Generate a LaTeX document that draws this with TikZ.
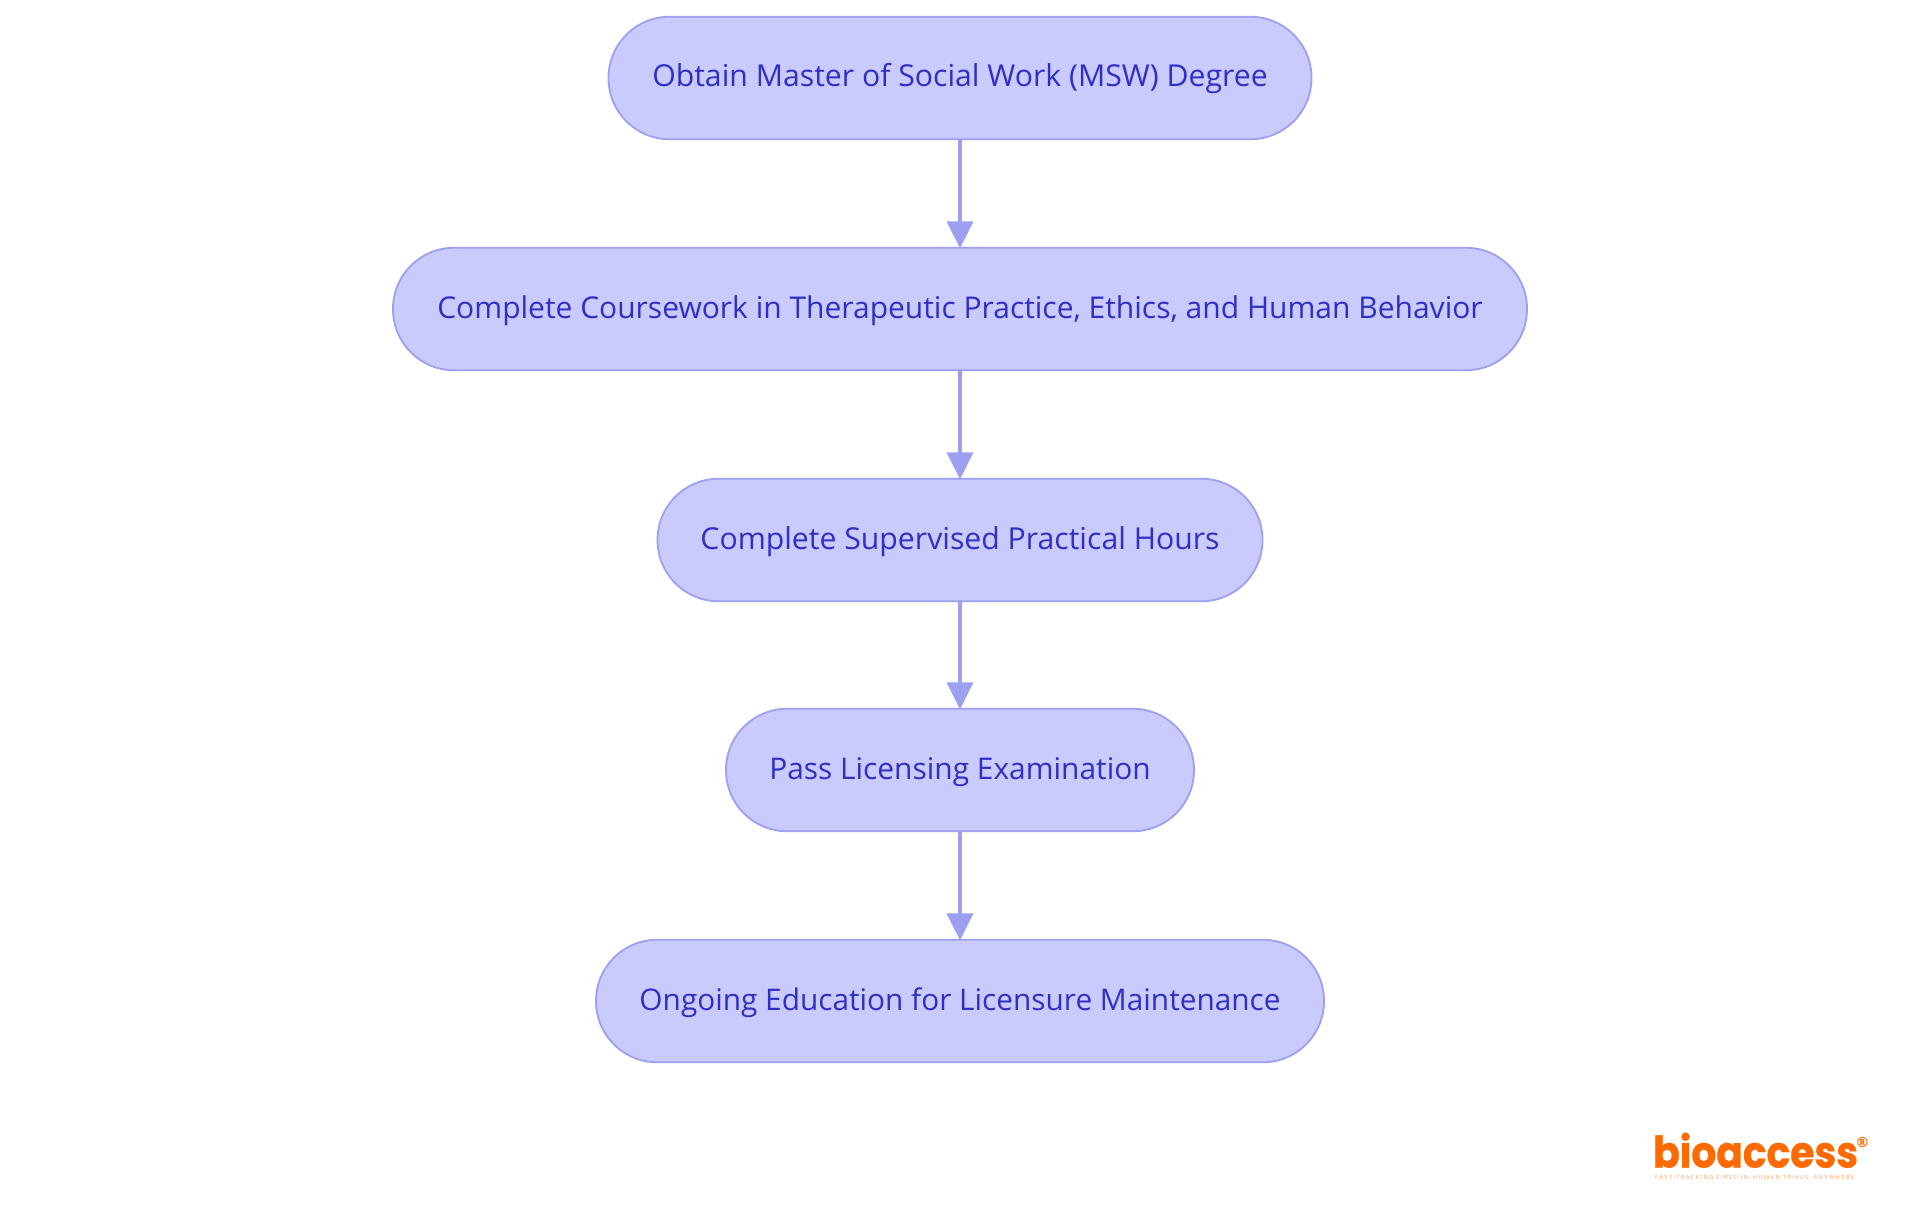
\documentclass[tikz,border=0pt]{standalone}
\usepackage{fontspec}
\setmainfont{Open Sans}
\newfontfamily\logofont[FakeBold=0.8,FakeStretch=0.9]{Poppins Bold}
\newfontfamily\regfont{Open Sans}
\newfontfamily\tagfont[LetterSpace=24]{Open Sans}
\usetikzlibrary{arrows.meta}
\definecolor{nodefill}{HTML}{C9CBFF}
\definecolor{nodeline}{HTML}{9D9FF0}
\definecolor{nodetext}{HTML}{2F2FC4}
\definecolor{logoorange}{HTML}{FF6A00}
\tikzset{
  stepbox/.style={draw=nodeline,fill=nodefill,line width=1.8pt,rounded corners=61pt,
    minimum height=122.5pt,inner sep=0pt,text=nodetext,text depth=7pt,text height=25pt,
    font=\fontsize{#1}{36}\selectfont},
  flow/.style={draw=nodeline,line width=3.8pt,shorten >=-1.5pt,-{Triangle[length=27pt,width=26pt]}},
}
\begin{document}
\begin{tikzpicture}[x=1pt,y=-1pt]
\useasboundingbox (0,0) rectangle (1920,1215);
\fill[white] (0,0) rectangle (1920,1215);
\node[stepbox=30.2,minimum width=703pt] (a) at (960,78) {Obtain Master of Social Work (MSW) Degree};
\node[stepbox=30,minimum width=1134pt] (b) at (960,309) {Complete Coursework in Therapeutic Practice, Ethics, and Human Behavior};
\node[stepbox=30.2,minimum width=605pt] (c) at (960,540) {Complete Supervised Practical Hours};
\node[stepbox=29.9,minimum width=468pt] (d) at (960,770) {Pass Licensing Examination};
\node[stepbox=29.8,minimum width=728pt] (e) at (960,1001) {Ongoing Education for Licensure Maintenance};
\draw[flow] (a.south) -- (b.north);
\draw[flow] (b.south) -- (c.north);
\draw[flow] (c.south) -- (d.north);
\draw[flow] (d.south) -- (e.north);
\node[anchor=base west,inner sep=0pt,text=logoorange,font=\logofont\fontsize{43.5}{44}\selectfont] (logo) at (1653,1167.5) {bioaccess};
\node[text=logoorange,inner sep=0pt,font=\regfont\bfseries\fontsize{14}{14}\selectfont] (reg) at (1862.5,1142) {®};
\node[anchor=base west,inner sep=0pt,text=logoorange!65,font=\tagfont\fontsize{5.76}{6}\selectfont] (tag) at (1655,1179.5) {FAST-TRACKING FIRST-IN-HUMAN TRIALS, ANYWHERE};
\end{tikzpicture}
\end{document}
